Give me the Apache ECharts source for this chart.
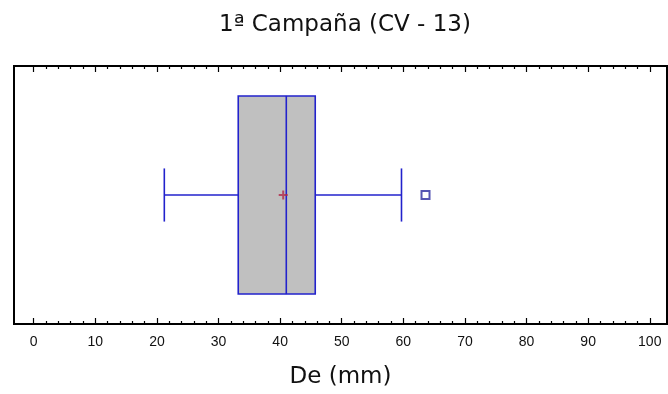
<!DOCTYPE html>
<html>
<head>
<meta charset="utf-8">
<script src="https://cdn.jsdelivr.net/npm/echarts@6/dist/echarts.min.js"></script>
<style>html,body{margin:0;padding:0;background:#fff}#c{width:668px;height:394px}</style>
</head>
<body>
<div id="c"></div>
<script>
// ---- data ----
const titleText = '1ª Campaña (CV - 13)';
const axisName = 'De (mm)';
const majorTicks = [0, 10, 20, 30, 40, 50, 60, 70, 80, 90, 100];
const minorTicks = [2,4,6,8,12,14,16,18,22,24,26,28,32,34,36,38,42,44,46,48,52,54,56,58,62,64,66,68,72,74,76,78,82,84,86,88,92,94,96,98];
// box statistics: lower whisker, Q1, median, Q3, upper whisker
const boxStats = [21.2, 33.2, 41.0, 45.7, 59.7];
const meanValue = [40.5];
const outliers = [63.6];

// ---- layout constants ----
const CENTER = 0.5, BOX_HALF = 0.384, CAP_HALF = 0.103;
const BLUE = '#2222cc';
const FONT = 'Liberation Sans, Arial, sans-serif';
const BIGFONT = 'DejaVu Sans, sans-serif';

function xAx(pos, ticks, len, labels) {
  return {
    type: 'value', position: pos, min: -3.2, max: 102.8,
    splitLine: { show: false }, axisLine: { show: false },
    axisTick: { show: true, inside: true, length: len, customValues: ticks, lineStyle: { color: '#000', width: 1.2 } },
    axisLabel: labels ? { show: true, customValues: majorTicks, margin: 11, color: '#111', fontSize: 14, fontFamily: FONT } : { show: false }
  };
}

const xAxes = [
  Object.assign(xAx('bottom', majorTicks, 6, true), { name: axisName, nameLocation: 'middle', nameGap: 42, nameTextStyle: { fontSize: 23, color: '#111', fontFamily: BIGFONT } }),
  xAx('bottom', minorTicks, 3, false),
  xAx('top', majorTicks, 6, false),
  xAx('top', minorTicks, 3, false)
];

const chart = echarts.init(document.getElementById('c'));
chart.setOption({
  animation: false,
  backgroundColor: '#fff',
  title: { text: titleText, left: 340, top: 9, textAlign: 'center', textStyle: { fontSize: 23, fontWeight: 'normal', color: '#111', fontFamily: BIGFONT } },
  grid: { left: 14, right: 1, top: 66, bottom: 70, show: true, borderColor: '#000', borderWidth: 2, backgroundColor: '#fff' },
  xAxis: xAxes,
  yAxis: { type: 'value', min: 0, max: 1, show: false },
  series: [
    {
      type: 'custom',
      xAxisIndex: 0,
      data: [boxStats],
      encode: { x: [0, 1, 2, 3, 4] },
      renderItem: function (params, api) {
        const lo = api.value(0), q1 = api.value(1), md = api.value(2), q3 = api.value(3), hi = api.value(4);
        const pQ1t = api.coord([q1, CENTER + BOX_HALF]), pQ3b = api.coord([q3, CENTER - BOX_HALF]);
        const pMdT = api.coord([md, CENTER + BOX_HALF]), pMdB = api.coord([md, CENTER - BOX_HALF]);
        const pLo = api.coord([lo, CENTER]), pQ1 = api.coord([q1, CENTER]), pQ3 = api.coord([q3, CENTER]), pHi = api.coord([hi, CENTER]);
        const capT = api.coord([lo, CENTER + CAP_HALF])[1], capB = api.coord([lo, CENTER - CAP_HALF])[1];
        const ls = { stroke: BLUE, lineWidth: 1.6, fill: null };
        return {
          type: 'group',
          children: [
            { type: 'rect', shape: { x: pQ1t[0], y: pQ1t[1], width: pQ3b[0] - pQ1t[0], height: pQ3b[1] - pQ1t[1] }, style: { fill: '#c0c0c0', stroke: BLUE, lineWidth: 1.6 } },
            { type: 'line', shape: { x1: pMdT[0], y1: pMdT[1], x2: pMdB[0], y2: pMdB[1] }, style: ls },
            { type: 'line', shape: { x1: pLo[0], y1: pLo[1], x2: pQ1[0], y2: pQ1[1] }, style: ls },
            { type: 'line', shape: { x1: pQ3[0], y1: pQ3[1], x2: pHi[0], y2: pHi[1] }, style: ls },
            { type: 'line', shape: { x1: pLo[0], y1: capT, x2: pLo[0], y2: capB }, style: ls },
            { type: 'line', shape: { x1: pHi[0], y1: capT, x2: pHi[0], y2: capB }, style: ls }
          ]
        };
      }
    },
    {
      type: 'scatter', xAxisIndex: 0,
      data: meanValue.map(v => [v, CENTER]),
      symbol: 'path://M0,3L6,3M3,0L3,6', symbolSize: 9,
      itemStyle: { color: 'none', borderColor: '#b02848', borderWidth: 2 },
      z: 5
    },
    {
      type: 'scatter', xAxisIndex: 0,
      data: outliers.map(v => [v, CENTER]),
      symbol: 'rect', symbolSize: 8,
      itemStyle: { color: '#fff', borderColor: '#2a2aa0', borderWidth: 2 },
      z: 5
    }
  ]
});
</script>
</body>
</html>
